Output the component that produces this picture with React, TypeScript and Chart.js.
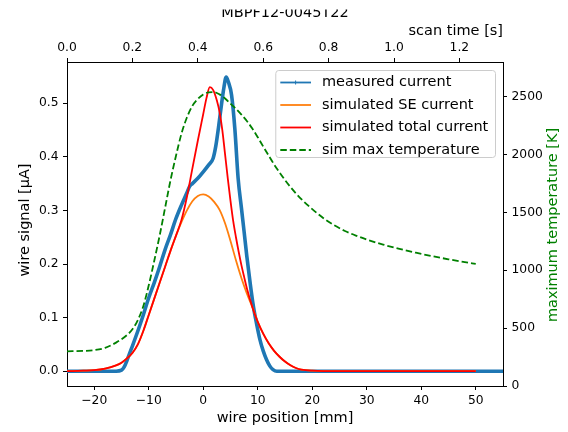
import React, { useEffect, useRef } from 'react';
import { Chart, registerables } from 'chart.js';

Chart.register(...registerables);

const TITLE = 'MBPF12-0045T22';
const X_LABEL = 'wire position [mm]';
const X2_LABEL = 'scan time [s]';
const Y_LABEL = 'wire signal [μA]';
const Y2_LABEL = 'maximum temperature [K]';

const POS_TICKS = [-20, -10, 0, 10, 20, 30, 40, 50];
const TIME_TICKS = [0, 0.2, 0.4, 0.6, 0.8, 1.0, 1.2];
const SIGNAL_TICKS = [0, 0.1, 0.2, 0.3, 0.4, 0.5];
const TEMP_TICKS = [0, 500, 1000, 1500, 2000, 2500];

const POS_RANGE = [-25, 55];
const TIME_RANGE = [0, 80 / 60];
const SIGNAL_RANGE = [-0.0276, 0.577];
const TEMP_RANGE = [0, 2800];

const measuredX = [-25, -20, -16, -15, -14.5, -14, -13, -12, -11, -10, -9, -8, -7, -6, -5, -4, -3, -2.5, -2, -1, 0, 1, 1.8, 2.3, 2.8, 3.4, 3.8, 4.2, 4.6, 5.2, 5.8, 6.4, 7, 7.5, 8, 8.6, 9.2, 9.8, 10.4, 11, 11.6, 12.2, 12.8, 13.5, 15, 20, 30, 40, 55];
const measuredY = [0, 0, 0, 0.002, 0.008, 0.02, 0.047, 0.075, 0.105, 0.137, 0.165, 0.195, 0.227, 0.255, 0.285, 0.31, 0.333, 0.345, 0.35, 0.36, 0.372, 0.385, 0.397, 0.42, 0.455, 0.502, 0.53, 0.549, 0.54, 0.515, 0.452, 0.36, 0.305, 0.26, 0.214, 0.165, 0.121, 0.088, 0.059, 0.038, 0.022, 0.01, 0.003, 0, 0, 0, 0, 0, 0];

const seX = [-25, -22, -20, -18, -16, -15, -14, -13, -12, -11, -10, -9, -8, -7, -6, -5, -4, -3, -2, -1, 0, 1, 2, 3, 4, 5, 6, 7, 8, 9, 10, 11, 12, 13, 14, 15, 16, 17, 18, 20, 25, 30, 40, 50];
const seY = [0, 0.001, 0.002, 0.005, 0.011, 0.016, 0.024, 0.034, 0.05, 0.075, 0.105, 0.135, 0.165, 0.195, 0.225, 0.253, 0.278, 0.3, 0.317, 0.327, 0.33, 0.326, 0.316, 0.301, 0.276, 0.243, 0.207, 0.174, 0.145, 0.12, 0.092, 0.07, 0.052, 0.038, 0.027, 0.018, 0.011, 0.006, 0.003, 0.001, 0, 0, 0, 0];

const totalX = [-25, -22, -20, -18, -16, -15, -14, -13, -12, -11, -10, -9, -8, -7, -6, -5, -4, -3, -2, -1, 0, 0.6, 1.2, 1.8, 2.5, 3, 3.5, 4, 4.5, 5, 5.5, 6, 6.5, 7, 7.5, 8, 9, 10, 11, 12, 13, 14, 15, 16, 17, 18, 20, 25, 30, 40, 50];
const totalY = [0, 0.001, 0.002, 0.005, 0.011, 0.016, 0.024, 0.034, 0.05, 0.075, 0.105, 0.135, 0.165, 0.195, 0.225, 0.253, 0.282, 0.325, 0.378, 0.43, 0.48, 0.51, 0.53, 0.525, 0.505, 0.483, 0.45, 0.405, 0.36, 0.318, 0.28, 0.25, 0.223, 0.198, 0.176, 0.155, 0.12, 0.092, 0.07, 0.052, 0.038, 0.027, 0.018, 0.011, 0.006, 0.003, 0.001, 0, 0, 0, 0];

const tempX = [-25, -22, -20, -18, -16, -14, -13, -12, -11, -10, -9, -8, -7, -6, -5, -4, -3, -2, -1, 0, 1, 2, 3, 4, 5, 6, 7, 8, 9, 10, 11, 12, 13, 14, 15, 16, 17, 18, 19, 20, 22, 24, 26, 28, 30, 33, 36, 39, 42, 45, 48, 50];
const tempY = [300, 303, 310, 330, 375, 440, 490, 570, 690, 870, 1080, 1300, 1540, 1780, 1990, 2180, 2320, 2420, 2480, 2520, 2538, 2540, 2520, 2485, 2440, 2395, 2345, 2290, 2225, 2150, 2070, 1992, 1915, 1845, 1780, 1720, 1665, 1615, 1570, 1528, 1452, 1390, 1340, 1300, 1266, 1222, 1185, 1152, 1122, 1095, 1070, 1055];

const FONT = "'DejaVu Sans', sans-serif";
const TICK_SIZE = 12.3;
const LABEL_SIZE = 14.5;

const pts = (xs: number[], ys: number[]) => xs.map((x, i) => ({ x, y: ys[i] }));
const fmtMinus = (v: number) => (v < 0 ? '\u2212' + Math.abs(v) : String(v));

const axisCommon = (ticks: number[], fmt: (v: number) => string, padding: number) => ({
  type: 'linear' as const,
  afterBuildTicks: (s: any) => {
    s.ticks = ticks.map((v) => ({ value: v }));
  },
  ticks: {
    autoSkip: false,
    maxRotation: 0,
    color: '#000',
    padding,
    font: { family: FONT, size: TICK_SIZE },
    callback: (v: any) => fmt(Number(v)),
  },
  grid: {
    display: true,
    drawOnChartArea: false,
    drawTicks: true,
    tickLength: 4,
    tickColor: '#000',
    tickWidth: 1,
  },
  border: { display: true, color: '#000', width: 1 },
});

const decorPlugin = {
  id: 'decor',
  afterDraw(chart: any) {
    const { ctx, chartArea: a } = chart;
    const cx = (a.left + a.right) / 2;
    ctx.save();
    // title (top of it cut off, as in the reference)
    ctx.save();
    ctx.beginPath();
    ctx.rect(0, 9.5, chart.width, 20);
    ctx.clip();
    ctx.font = `${LABEL_SIZE}px ${FONT}`;
    ctx.fillStyle = '#000';
    ctx.textAlign = 'center';
    ctx.textBaseline = 'alphabetic';
    ctx.fillText(TITLE, cx, 16.5);
    ctx.restore();

    ctx.font = `${LABEL_SIZE}px ${FONT}`;
    ctx.fillStyle = '#000';
    ctx.textBaseline = 'middle';
    ctx.textAlign = 'right';
    ctx.fillText(X2_LABEL, a.right, 31);
    ctx.textAlign = 'center';
    ctx.fillText(X_LABEL, cx, 418);
    ctx.save();
    ctx.translate(25, 220);
    ctx.rotate(-Math.PI / 2);
    ctx.fillText(Y_LABEL, 0, 0);
    ctx.restore();
    ctx.save();
    ctx.translate(553, 225);
    ctx.rotate(-Math.PI / 2);
    ctx.fillStyle = '#008000';
    ctx.fillText(Y2_LABEL, 0, 0);
    ctx.restore();

    // legend
    const ds = chart.data.datasets;
    ctx.font = `${LABEL_SIZE}px ${FONT}`;
    let maxW = 0;
    ds.forEach((d: any) => {
      maxW = Math.max(maxW, ctx.measureText(d.label).width);
    });
    const boxRight = a.right - 8;
    const boxW = 46.7 + maxW + 6.7;
    const boxLeft = boxRight - boxW;
    const boxTop = a.top + 8;
    const rowH = 22.5;
    const boxH = 87;
    ctx.beginPath();
    if (ctx.roundRect) ctx.roundRect(boxLeft + 0.5, boxTop + 0.5, boxW, boxH, 3);
    else ctx.rect(boxLeft + 0.5, boxTop + 0.5, boxW, boxH);
    ctx.fillStyle = 'rgba(255,255,255,0.8)';
    ctx.fill();
    ctx.strokeStyle = '#cccccc';
    ctx.lineWidth = 1;
    ctx.stroke();
    ds.forEach((d: any, i: number) => {
      const y = boxTop + 12.5 + i * rowH;
      ctx.save();
      ctx.strokeStyle = d.borderColor;
      ctx.lineWidth = d.legendWidth || d.borderWidth;
      ctx.setLineDash(d.borderDash || []);
      ctx.beginPath();
      ctx.moveTo(boxLeft + 5, y);
      ctx.lineTo(boxLeft + 35.7, y);
      ctx.stroke();
      if (d.legendMarker) {
        ctx.setLineDash([]);
        ctx.lineWidth = 1;
        ctx.beginPath();
        ctx.moveTo(boxLeft + 20.3, y - 2);
        ctx.lineTo(boxLeft + 20.3, y + 2);
        ctx.stroke();
      }
      ctx.restore();
      ctx.fillStyle = '#000';
      ctx.textAlign = 'left';
      ctx.textBaseline = 'middle';
      ctx.fillText(d.label, boxLeft + 46.7, y);
    });
    ctx.restore();
  },
};

export default function App() {
  const ref = useRef<HTMLCanvasElement | null>(null);
  useEffect(() => {
    if (!ref.current) return;
    const chart = new Chart(ref.current, {
      type: 'line',
      data: {
        datasets: [
          {
            label: 'measured current',
            data: pts(measuredX, measuredY),
            borderColor: '#1f77b4',
            backgroundColor: '#1f77b4',
            borderWidth: 3.6,
            legendWidth: 1.8,
            legendMarker: true,
            pointRadius: 0,
            xAxisID: 'x',
            yAxisID: 'y',
            order: 3,
            cubicInterpolationMode: 'monotone',
          } as any,
          {
            label: 'simulated SE current',
            data: pts(seX, seY),
            borderColor: '#ff7f0e',
            backgroundColor: '#ff7f0e',
            borderWidth: 1.8,
            pointRadius: 0,
            xAxisID: 'x',
            yAxisID: 'y',
            order: 2,
            cubicInterpolationMode: 'monotone',
          },
          {
            label: 'simulated total current',
            data: pts(totalX, totalY),
            borderColor: '#ff0000',
            backgroundColor: '#ff0000',
            borderWidth: 1.8,
            pointRadius: 0,
            xAxisID: 'x',
            yAxisID: 'y',
            order: 1,
            cubicInterpolationMode: 'monotone',
          },
          {
            label: 'sim max temperature',
            data: pts(tempX, tempY),
            borderColor: '#008000',
            backgroundColor: '#008000',
            borderWidth: 1.8,
            borderDash: [6.5, 3],
            pointRadius: 0,
            xAxisID: 'x',
            yAxisID: 'y1',
            order: 0,
            cubicInterpolationMode: 'monotone',
          },
        ],
      },
      options: {
        animation: false,
        responsive: false,
        devicePixelRatio: 1,
        layout: { padding: 0 },
        plugins: {
          legend: { display: false },
          tooltip: { enabled: false },
          title: { display: false },
        },
        scales: {
          x: {
            ...axisCommon(POS_TICKS, fmtMinus, 3),
            position: 'bottom',
            min: POS_RANGE[0],
            max: POS_RANGE[1],
            afterFit: (s: any) => {
              s.height = 46;
            },
          },
          x2: {
            ...axisCommon(TIME_TICKS, (v) => v.toFixed(1), 3),
            position: 'top',
            min: TIME_RANGE[0],
            max: TIME_RANGE[1],
            afterFit: (s: any) => {
              s.height = 62;
            },
          },
          y: {
            ...axisCommon(SIGNAL_TICKS, (v) => v.toFixed(1), 4.5),
            position: 'left',
            min: SIGNAL_RANGE[0],
            max: SIGNAL_RANGE[1],
            afterFit: (s: any) => {
              s.width = 67;
            },
          },
          y1: {
            ...axisCommon(TEMP_TICKS, (v) => String(v), 4.5),
            position: 'right',
            min: TEMP_RANGE[0],
            max: TEMP_RANGE[1],
            afterFit: (s: any) => {
              s.width = 65;
            },
          },
        } as any,
      },
      plugins: [decorPlugin],
    });
    return () => chart.destroy();
  }, []);
  return (
    <div style={{ position: 'absolute', left: 0, top: 0, width: 568, height: 432, background: '#fff' }}>
      <canvas ref={ref} width={568} height={432} style={{ display: 'block' }} />
    </div>
  );
}
